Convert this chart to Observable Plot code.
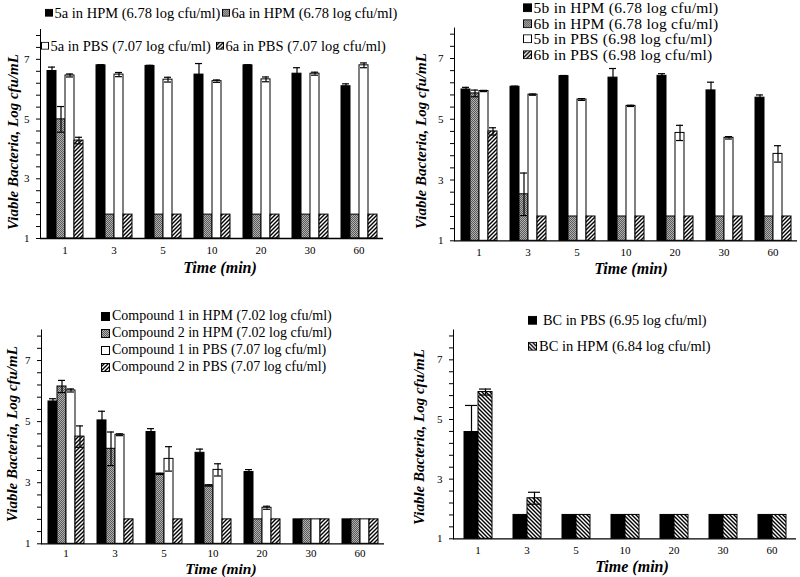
<!DOCTYPE html>
<html>
<head>
<meta charset="utf-8">
<script src="https://cdn.jsdelivr.net/npm/d3@7"></script>
<script src="https://cdn.jsdelivr.net/npm/@observablehq/plot@0.6"></script>
<style>
html, body { margin: 0; padding: 0; background: #fff; }
#chart { position: relative; width: 800px; height: 577px; overflow: hidden; background: #fff;
  font-family: "Liberation Serif", "Times New Roman", serif; color: #000; }
#chart svg.panel { position: absolute; overflow: visible; }
.t { position: absolute; white-space: nowrap; line-height: 1; }
.ytitle { font-weight: bold; font-style: italic; font-size: 15px; transform: translate(-50%, -50%) rotate(-90deg); }
.xtitle { font-weight: bold; font-style: italic; font-size: 16px; transform: translate(-50%, -50%); }
.leg { position: absolute; white-space: nowrap; line-height: 1; display: flex; align-items: center; transform: translateY(-50%); }
.leg svg { display: block; flex: none; }
</style>
</head>
<body>
<svg width="0" height="0" style="position:absolute">
  <defs>
    <pattern id="pGrey" patternUnits="userSpaceOnUse" width="2" height="2">
      <rect width="2" height="2" fill="#b0b0b0"></rect>
      <rect x="0" y="0" width="1" height="1" fill="#5a5a5a"></rect>
      <rect x="1" y="1" width="1" height="1" fill="#5a5a5a"></rect>
    </pattern>
    <pattern id="pHatch" patternUnits="userSpaceOnUse" width="4" height="4">
      <rect width="4" height="4" fill="#fff"></rect>
      <path d="M-1,1 l2,-2 M0,4 l4,-4 M3,5 l2,-2" stroke="#000" stroke-width="1.4"></path>
    </pattern>
    <pattern id="pHatchB" patternUnits="userSpaceOnUse" width="4" height="4">
      <rect width="4" height="4" fill="#fff"></rect>
      <path d="M-1,3 l2,2 M0,0 l4,4 M3,-1 l2,2" stroke="#000" stroke-width="1.4"></path>
    </pattern>
  </defs>
</svg>
<div id="chart"></div>
<script>
// ---------------- data ----------------
const times = [1, 3, 5, 10, 20, 30, 60];
const Y_BASE = 1;
const Y_MAX = 8;
const yTicks = [1, 1.4, 1.8, 2.2, 2.6, 3, 3.4, 3.8, 4.2, 4.6, 5, 5.4, 5.8, 6.2, 6.6, 7, 7.4, 7.8];
const yTickLabels = [1, 3, 5, 7];
const yTitle = "Viable Bacteria, Log cfu/mL";
const xTitle = "Time (min)";

// Panel A (top-left)
const seriesA = ["5a in HPM (6.78 log cfu/ml)", "6a in HPM (6.78 log cfu/ml)", "5a in PBS (7.07 log cfu/ml)", "6a in PBS (7.07 log cfu/ml)"];
const a5HPM    = [6.61, 6.80, 6.78, 6.49, 6.80, 6.52, 6.10];
const a5HPMerr = [0.13, 0.02, 0.02, 0.37, 0.02, 0.20, 0.08];
const a6HPM    = [4.99, 1.80, 1.80, 1.80, 1.80, 1.80, 1.80];
const a6HPMerr = [0.43, 0, 0, 0, 0, 0, 0];
const a5PBS    = [6.46, 6.49, 6.32, 6.27, 6.33, 6.52, 6.80];
const a5PBSerr = [0.05, 0.07, 0.08, 0.04, 0.08, 0.05, 0.08];
const a6PBS    = [4.28, 1.80, 1.80, 1.80, 1.80, 1.80, 1.80];
const a6PBSerr = [0.11, 0, 0, 0, 0, 0, 0];

// Panel B (top-right)
const seriesB = ["5b in HPM (6.78 log cfu/ml)", "6b in HPM (6.78 log cfu/ml)", "5b in PBS (6.98 log cfu/ml)", "6b in PBS (6.98 log cfu/ml)"];
const b5HPM    = [5.98, 6.07, 6.42, 6.37, 6.43, 5.95, 5.71];
const b5HPMerr = [0.07, 0.02, 0.02, 0.30, 0.07, 0.27, 0.09];
const b6HPM    = [5.85, 2.53, 1.80, 1.80, 1.80, 1.80, 1.80];
const b6HPMerr = [0.11, 0.70, 0, 0, 0, 0, 0];
const b5PBS    = [5.93, 5.81, 5.65, 5.44, 4.55, 4.39, 3.86];
const b5PBSerr = [0.02, 0.02, 0.03, 0.02, 0.25, 0.04, 0.27];
const b6PBS    = [4.60, 1.80, 1.80, 1.80, 1.80, 1.80, 1.80];
const b6PBSerr = [0.12, 0, 0, 0, 0, 0, 0];

// Panel C (bottom-left)
const seriesC = ["Compound 1 in HPM (7.02 log cfu/ml)", "Compound 2 in HPM (7.02 log cfu/ml)", "Compound 1 in PBS (7.07 log cfu/ml)", "Compound 2 in PBS (7.07 log cfu/ml)"];
const c1HPM    = [5.66, 5.04, 4.66, 3.98, 3.35, 1.80, 1.80];
const c1HPMerr = [0.09, 0.30, 0.11, 0.12, 0.08, 0, 0];
const c2HPM    = [6.15, 4.11, 3.29, 2.91, 1.80, 1.80, 1.80];
const c2HPMerr = [0.20, 0.55, 0.02, 0.02, 0, 0, 0];
const c1PBS    = [6.02, 4.57, 3.78, 3.42, 2.18, 1.80, 1.80];
const c1PBSerr = [0.05, 0.03, 0.40, 0.20, 0.05, 0, 0];
const c2PBS    = [4.51, 1.80, 1.80, 1.80, 1.80, 1.80, 1.80];
const c2PBSerr = [0.35, 0, 0, 0, 0, 0, 0];

// Panel D (bottom-right)
const seriesD = ["BC in PBS (6.95 log cfu/ml)", "BC in HPM (6.84 log cfu/ml)"];
const dPBS    = [4.58, 1.80, 1.80, 1.80, 1.80, 1.80, 1.80];
const dPBSerr = [0.89, 0, 0, 0, 0, 0, 0];
const dHPM    = [5.92, 2.36, 1.80, 1.80, 1.80, 1.80, 1.80];
const dHPMerr = [0.10, 0.20, 0, 0, 0, 0, 0];

const fills4 = ["#000", "url(#pGrey)", "#fff", "url(#pHatch)"];
const fills2 = ["#000", "url(#pHatchB)"];

// ---------------- drawing ----------------
const chart = document.getElementById("chart");

function buildRows(series, values, errs) {
  const rows = [];
  series.forEach((s, i) => times.forEach((t, j) => rows.push({series: s, time: t, value: values[i][j], err: errs[i][j]})));
  return rows;
}

function makePanel(cfg) {
  const rows = buildRows(cfg.series, cfg.values, cfg.errs);
  const withErr = rows.filter(d => d.err > 0);
  const svg = Plot.plot({
    width: cfg.width, height: cfg.height,
    marginTop: cfg.mt, marginRight: cfg.mr, marginBottom: cfg.mb, marginLeft: cfg.ml,
    style: {fontFamily: '"Liberation Serif", "Times New Roman", serif', fontSize: "11px", background: "transparent", color: "#000", overflow: "visible"},
    fx: {domain: times, padding: 0, axis: "bottom", label: null, tickSize: 0, tickPadding: cfg.fxPad},
    x: {domain: cfg.series, axis: null, paddingInner: 0, paddingOuter: cfg.po},
    y: {domain: [Y_BASE, Y_MAX], ticks: yTicks,
        tickFormat: d => yTickLabels.some(v => Math.abs(v - d) < 1e-6) ? String(Math.round(d)) : "",
        tickSize: 4, tickPadding: 7, line: true, label: null},
    marks: [
      ...cfg.series.map((s, i) => Plot.barY(rows.filter(d => d.series === s),
        {fx: "time", x: "series", y1: Y_BASE, y2: "value", fill: cfg.fills[i], stroke: "#000", strokeWidth: 1})),
      Plot.ruleX(withErr, {fx: "time", x: "series", y1: d => d.value - d.err, y2: d => d.value + d.err, stroke: "#000", strokeWidth: 1.2}),
      Plot.tickY(withErr, {fx: "time", x: "series", y: d => d.value + d.err, stroke: "#000", strokeWidth: 1.2, inset: 1}),
      Plot.tickY(withErr, {fx: "time", x: "series", y: d => d.value - d.err, stroke: "#000", strokeWidth: 1.2, inset: 1}),
      Plot.ruleY([Y_BASE], {stroke: "#000", strokeWidth: 1.3})
    ]
  });
  svg.classList.add("panel");
  svg.style.left = cfg.left + "px";
  svg.style.top = cfg.top + "px";
  chart.appendChild(svg);
}

function addText(cls, text, left, top, extra) {
  const d = document.createElement("div");
  d.className = "t " + cls;
  d.textContent = text;
  d.style.left = left + "px";
  d.style.top = top + "px";
  if (extra) Object.assign(d.style, extra);
  chart.appendChild(d);
}

function addLegend(label, fill, left, top, fontSize, box, gap, spacing) {
  const d = document.createElement("div");
  d.className = "leg";
  d.style.left = left + "px";
  d.style.top = top + "px";
  d.style.fontSize = fontSize + "px";
  if (spacing) d.style.letterSpacing = spacing + "px";
  const ns = "http://www.w3.org/2000/svg";
  const s = document.createElementNS(ns, "svg");
  s.setAttribute("width", box); s.setAttribute("height", box);
  const r = document.createElementNS(ns, "rect");
  r.setAttribute("x", 0.5); r.setAttribute("y", 0.5); r.setAttribute("width", box - 1); r.setAttribute("height", box - 1);
  r.setAttribute("fill", fill); r.setAttribute("stroke", "#000"); r.setAttribute("stroke-width", 1);
  s.appendChild(r);
  d.appendChild(s);
  const sp = document.createElement("span");
  sp.textContent = label;
  sp.style.marginLeft = gap + "px";
  d.appendChild(sp);
  chart.appendChild(d);
}

// Panel A
makePanel({left: 0, top: 0, width: 400, height: 280, mt: 29, mr: 15, mb: 42, ml: 38, po: 0.62, fxPad: 8,
  series: seriesA, values: [a5HPM, a6HPM, a5PBS, a6PBS], errs: [a5HPMerr, a6HPMerr, a5PBSerr, a6PBSerr], fills: fills4});
// Panel B
makePanel({left: 400, top: 0, width: 400, height: 280, mt: 27.6, mr: 1, mb: 39.7, ml: 52, po: 0.62, fxPad: 7,
  series: seriesB, values: [b5HPM, b6HPM, b5PBS, b6PBS], errs: [b5HPMerr, b6HPMerr, b5PBSerr, b6PBSerr], fills: fills4});
// Panel C
makePanel({left: 0, top: 280, width: 400, height: 297, mt: 49.5, mr: 14, mb: 33.7, ml: 38, po: 0.62, fxPad: 5,
  series: seriesC, values: [c1HPM, c2HPM, c1PBS, c2PBS], errs: [c1HPMerr, c2HPMerr, c1PBSerr, c2PBSerr], fills: fills4});
// Panel D
makePanel({left: 400, top: 280, width: 400, height: 297, mt: 49.5, mr: 3, mb: 38.7, ml: 51, po: 0.65, fxPad: 7,
  series: seriesD, values: [dPBS, dHPM], errs: [dPBSerr, dHPMerr], fills: fills2});

// axis titles
addText("ytitle", yTitle, 13, 142);
addText("ytitle", yTitle, 421, 141);
addText("ytitle", yTitle, 12, 434);
addText("ytitle", yTitle, 419, 437);
addText("xtitle", xTitle, 220, 268);
addText("xtitle", xTitle, 631, 269);
addText("xtitle", xTitle, 221, 569, {fontSize: "15.5px"});
addText("xtitle", xTitle, 632, 567);

// legends
addLegend(seriesA[0], fills4[0], 45, 13, 14.5, 8, 1.5);
addLegend(seriesA[1], fills4[1], 222, 13, 14.5, 8, 1.5);
addLegend(seriesA[2], fills4[2], 41, 46, 14.5, 8, 1.5);
addLegend(seriesA[3], fills4[3], 216, 46, 14.5, 8, 1.5);

addLegend(seriesB[0], fills4[0], 523, 8, 15.5, 9, 1.5, 0.25);
addLegend(seriesB[1], fills4[1], 523, 23.5, 15.5, 9, 1.5, 0.25);
addLegend(seriesB[2], fills4[2], 523, 39, 15.5, 9, 1.5, 0.25);
addLegend(seriesB[3], fills4[3], 523, 54.5, 15.5, 9, 1.5, 0.25);

addLegend(seriesC[0], fills4[0], 101, 316, 14, 9, 2);
addLegend(seriesC[1], fills4[1], 101, 333, 14, 9, 2);
addLegend(seriesC[2], fills4[2], 101, 350, 14, 9, 2);
addLegend(seriesC[3], fills4[3], 101, 367, 14, 9, 2);

addLegend(seriesD[0], fills2[0], 528, 320, 14.3, 9, 6);
addLegend(seriesD[1], fills2[1], 528, 346, 14.5, 9, 2);
</script>
</body>
</html>
